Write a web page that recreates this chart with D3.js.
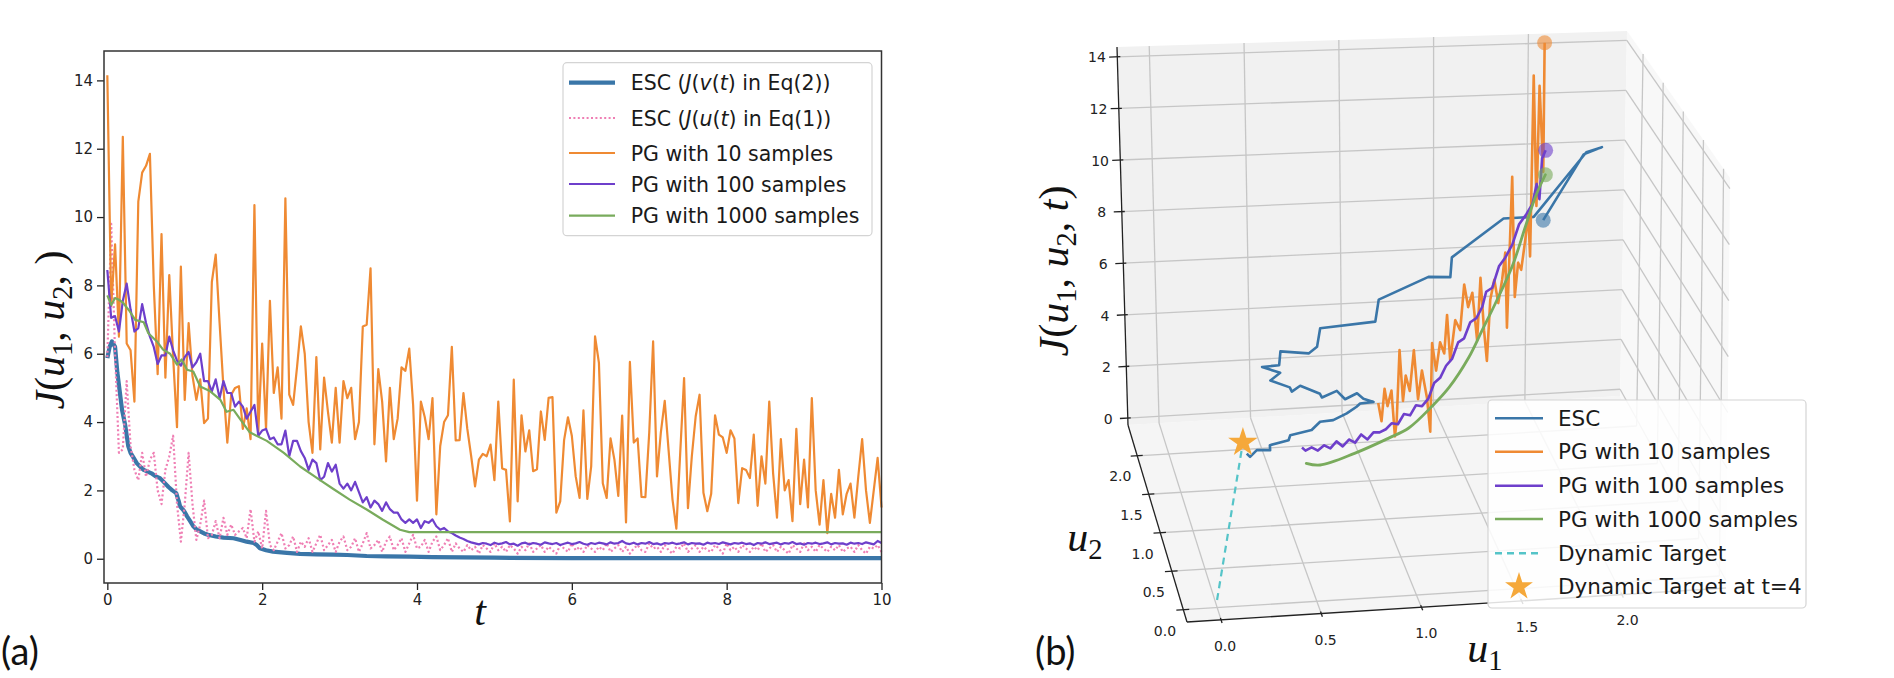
<!DOCTYPE html>
<html>
<head>
<meta charset="utf-8">
<script src="https://cdn.jsdelivr.net/npm/d3@7"></script>
<style>
  body { margin: 0; background: #fff; }
  svg { display: block; }
  .sans { font-family: "DejaVu Sans", sans-serif; }
</style>
</head>
<body>
<svg id="chart" width="1894" height="678"></svg>
<script>
// ---------------- data, panel (a) ----------------
const dt = 0.05; // sample step of the PG and ESC-u series

const escVt = [0,0.03,0.06,0.1,0.13,0.19,0.23,0.27,0.3,0.34,0.38,0.43,0.47,0.52,0.57,0.62,0.68,0.74,0.79,0.84,
  0.89,0.92,0.94,0.99,1.03,1.07,1.11,1.15,1.2,1.25,1.3,1.4,1.5,1.63,1.72,1.8,1.89,1.93,1.97,2.05,
  2.14,2.32,2.49,2.7,2.92,3.1,3.35,3.6,3.9,4.2,4.6,5,6,7,8,9,10];
const escV = [5.87,6.2,6.36,6.2,5.44,4.36,3.92,3.3,3.1,2.95,2.8,2.68,2.6,2.55,2.5,2.42,2.36,2.22,2.1,2.0,
  1.92,1.7,1.53,1.4,1.24,1.1,0.95,0.86,0.8,0.74,0.7,0.65,0.62,0.6,0.55,0.5,0.46,0.4,0.31,0.25,
  0.21,0.17,0.14,0.13,0.12,0.11,0.08,0.07,0.06,0.05,0.04,0.03,0.02,0.02,0.02,0.02,0.02];

const escU = [5.9,9.8,6.0,3.1,3.2,5.2,3.3,2.6,2.3,3.1,2.4,2.9,3.1,2.0,1.6,2.6,3.0,3.6,1.6,0.5,
  1.6,3.1,1.6,0.55,1.0,1.7,0.6,0.7,1.1,0.6,1.2,0.7,1.0,0.7,0.8,0.9,0.6,1.45,0.5,0.8,
  0.3,1.4,0.4,0.25,0.5,0.75,0.3,0.4,0.65,0.2,0.5,
  0.35,0.6,0.2,0.45,0.7,0.25,0.4,0.55,0.2,0.5,0.65,0.25,0.35,0.6,0.2,0.45,0.75,0.3,0.4,0.55,
  0.2,0.5,0.65,0.25,0.4,0.6,0.2,0.45,0.7,0.3,0.35,0.55,0.2,0.5,0.65,0.25,0.4,0.6,0.2,0.45,
  0.3,0.2,0.4,0.25,0.35,0.15,0.4,0.3,0.2,0.45,0.25,0.35,0.2,0.4,0.3,0.15,0.35,0.25,0.45,0.2,
  0.3,0.4,0.2,0.35,0.25,0.15,0.4,0.3,0.2,0.45,0.25,0.35,0.2,0.4,0.3,0.2,0.35,0.25,0.45,0.2,
  0.3,0.4,0.2,0.35,0.15,0.3,0.4,0.25,0.2,0.45,0.3,0.35,0.2,0.4,0.25,0.15,0.35,0.3,0.45,0.2,
  0.3,0.4,0.2,0.35,0.25,0.2,0.4,0.3,0.15,0.45,0.25,0.35,0.2,0.4,0.3,0.2,0.35,0.25,0.45,0.2,
  0.3,0.4,0.2,0.35,0.25,0.15,0.4,0.3,0.2,0.45,0.25,0.35,0.2,0.4,0.3,0.2,0.35,0.25,0.4,0.2,
  0.3,0.35,0.2,0.4,0.25,0.15,0.35,0.3,0.4,0.2];

const pg10 = [14.15,7.4,9.2,6.5,12.35,6.3,6.1,4.6,10.45,11.3,11.5,11.85,8.0,5.4,9.5,5.3,8.3,5.9,3.85,8.55,
  4.65,6.9,5.35,4.65,5.25,3.97,4.1,8.1,8.9,6.9,5.0,3.4,4.8,5.0,5.05,3.8,4.4,3.5,10.35,3.7,
  6.3,3.8,7.55,4.85,5.6,4.1,10.55,4.8,4.5,5.6,6.8,6.0,4.0,3.1,5.9,3.2,5.3,4.3,3.4,5.0,
  3.4,5.2,4.7,5.0,3.5,4.0,6.8,6.85,8.5,3.35,5.55,4.6,2.85,5.0,3.5,4.1,5.6,5.5,6.15,4.5,
  1.7,4.6,4.15,3.5,4.7,1.3,3.3,4.0,4.2,6.2,3.46,3.47,4.85,3.8,3.0,2.12,2.9,3.07,3.0,3.34,
  2.3,4.6,2.64,2.6,1.09,5.24,1.68,4.2,3.14,3.76,2.56,2.62,4.31,3.48,4.71,4.73,1.35,1.68,3.47,4.14,
  3.6,2.41,1.78,4.34,1.75,2.7,6.51,5.73,2.21,1.78,3.52,2.9,1.84,4.19,1.06,5.76,3.4,3.52,1.81,1.8,
  3.7,6.36,2.41,3.7,4.62,3.17,1.74,0.88,3.1,5.29,1.48,3.0,4.17,4.8,1.93,1.39,1.9,4.2,3.63,3.55,
  3.1,3.76,3.52,1.63,2.65,2.6,2.36,3.63,1.55,3.0,2.2,4.6,2.5,1.2,3.5,2.0,2.3,1.1,3.8,1.6,
  2.9,1.5,4.7,2.0,1.0,2.3,0.75,1.9,1.2,2.6,1.3,1.9,2.2,1.2,2.4,3.5,2.0,1.05,2.0,2.95,
  1.5];

const pg100 = [8.45,7.05,7.1,6.65,7.55,8.05,7.3,6.65,6.75,7.45,6.9,6.5,6.2,5.7,5.95,5.95,6.5,6.1,5.8,5.65,
  5.9,6.05,5.6,5.75,6.0,5.2,5.2,4.9,5.25,4.7,5.2,4.85,4.85,4.45,4.6,4.45,4.1,4.3,4.5,3.6,
  3.75,3.8,3.5,3.55,3.35,3.35,3.75,3.0,3.45,3.45,3.15,2.95,2.6,2.9,2.8,2.3,2.4,2.8,2.55,2.75,
  2.2,2.05,2.2,2.0,2.25,1.95,1.65,1.8,1.5,1.7,1.6,1.4,1.65,1.45,1.35,1.35,1.15,1.05,1.15,1.05,
  1.15,0.9,1.1,1.05,1.15,0.95,0.85,0.9,0.8,0.75,0.68,0.62,0.58,0.52,0.48,0.45,
  0.42,0.46,0.44,0.40,0.47,0.43,0.45,0.49,0.42,0.44,0.38,0.45,0.47,0.42,0.46,0.44,0.41,0.48,0.45,0.43,
  0.46,0.40,0.44,0.47,0.43,0.45,0.49,0.44,0.41,0.46,0.43,0.47,0.45,0.42,0.48,0.44,0.46,0.52,0.45,0.43,
  0.47,0.42,0.46,0.44,0.49,0.43,0.45,0.41,0.46,0.44,0.47,0.43,0.45,0.48,0.42,0.46,0.44,0.45,0.41,0.47,
  0.44,0.46,0.43,0.48,0.45,0.42,0.46,0.44,0.47,0.43,0.45,0.40,0.46,0.44,0.48,0.43,0.45,0.47,0.42,0.46,
  0.44,0.49,0.43,0.45,0.41,0.46,0.44,0.47,0.43,0.45,0.48,0.42,0.46,0.44,0.45,0.41,0.47,0.44,0.46,0.43,
  0.48,0.45,0.42,0.52,0.46];

const pg1000t = [0,0.05,0.1,0.15,0.2,0.29,0.36,0.47,0.53,0.64,0.72,0.81,0.9,0.96,1.03,1.11,1.2,1.33,1.46,1.54,
  1.63,1.72,1.84,2.06,2.28,2.49,2.71,2.92,3.13,3.35,3.56,3.78,3.9,10];
const pg1000 = [7.71,7.43,7.63,7.58,7.5,7.24,6.99,6.92,6.6,6.36,6.12,6.0,5.68,5.83,5.53,5.48,5.04,4.9,4.65,4.3,
  4.36,4.07,3.7,3.45,3.1,2.7,2.36,2.04,1.73,1.44,1.14,0.85,0.78,0.78];

const tTicks = [0, 2, 4, 6, 8, 10];
const jTicksA = [0, 2, 4, 6, 8, 10, 12, 14];

// ---------------- data, panel (b) ----------------
const esc3dU1 = [2.087,2.299,2.396,2.313,2.036,1.874,1.597,1.589,1.471,1.202,1.183,0.884,0.866,0.820,0.667,0.659,
  0.566,0.664,0.610,0.715,0.726,0.772,0.879,0.890,0.971,1.016,1.081,1.116,1.171,
  1.096,1.070,1.003,0.917,0.844,0.782,0.659,0.640,0.532,0.524,0.454,0.406,0.395];
const esc3dU2 = [2.39,2.39,2.39,2.39,2.39,2.39,2.39,2.39,2.39,2.39,2.39,2.39,2.39,2.39,2.39,2.39,
  2.39,2.39,2.39,2.39,2.39,2.39,2.39,2.39,2.39,2.39,2.39,2.39,2.39,
  2.38,2.341,2.262,2.186,2.175,2.074,2.024,1.960,1.911,1.847,1.857,1.775,1.821];
const esc3dJ = [6.96,9.52,9.78,9.6,7.11,7.1,5.65,4.87,4.92,4.12,3.26,3.11,2.39,2.15,2.29,1.75,
  1.72,1.45,1.17,0.86,0.69,0.9,0.54,0.39,0.62,0.27,0.48,0.25,0.10,
  0.1,0.1,0.1,0.1,0.1,0.1,0.1,0.1,0.1,0.1,0.1,0.1,0.1];

const pg10U1 = [2.068,2.068,2.040,2.028,2.004,1.992,1.979,1.962,1.938,1.919,1.900,1.879,1.853,1.840,1.822,
  1.799,1.774,1.750,1.731,1.713,1.690,1.671,1.641,1.616,1.592,1.568,1.538,1.508,1.489,1.472,
  1.447,1.423,1.399,1.387,1.368,1.338,1.314,1.290,1.265,1.241,1.224,1.205,1.186,1.175,1.156,
  1.132,1.115,1.096,1.077];
const pg10U2 = [2.310,2.310,2.292,2.284,2.269,2.262,2.254,2.243,2.227,2.216,2.204,2.190,2.174,2.166,2.155,
  2.140,2.124,2.109,2.097,2.086,2.071,2.059,2.040,2.025,2.010,1.994,1.975,1.956,1.945,1.934,
  1.918,1.903,1.888,1.880,1.869,1.850,1.834,1.819,1.804,1.788,1.777,1.766,1.754,1.747,1.735,
  1.720,1.709,1.697,1.685];
const pg10J = [14.23,9.10,12.57,7.83,13.04,5.90,7.60,6.63,5.48,5.80,4.49,9.27,3.38,6.36,5.33,
  4.46,5.43,4.69,2.34,3.57,5.68,3.27,5.20,4.69,5.62,3.89,4.35,2.84,4.65,3.19,
  3.68,2.63,3.75,0.35,1.69,2.82,1.77,3.71,2.19,2.84,1.90,3.89,1.20,0.64,2.44,
  1.90,2.60,1.40,2.14];

const pg100U1 = [2.081,2.060,2.046,2.028,2.004,1.967,1.923,1.883,1.840,1.802,1.762,1.725,1.702,1.666,1.629,
  1.592,1.556,1.520,1.483,1.447,1.411,1.375,1.338,1.302,1.266,1.229,1.193,1.157,1.121,1.084,
  1.048,1.012,0.975,0.939,0.903,0.866,0.830,0.794,0.758,0.721,0.685,0.649,0.629];
const pg100U2 = [2.318,2.305,2.296,2.284,2.269,2.246,2.218,2.193,2.166,2.142,2.117,2.094,2.079,2.056,2.033,
  2.010,1.987,1.964,1.941,1.918,1.895,1.873,1.850,1.827,1.804,1.781,1.758,1.735,1.712,1.689,
  1.667,1.644,1.621,1.598,1.575,1.552,1.529,1.507,1.484,1.461,1.438,1.415,1.402];
const pg100J = [9.93,9.65,8.06,8.70,7.95,7.62,7.31,6.60,6.16,5.90,5.14,5.06,4.52,4.15,4.07,
  3.52,3.44,2.89,2.69,2.30,2.18,1.64,1.44,1.56,1.25,1.38,1.07,1.19,1.04,1.00,
  1.08,0.89,1.16,0.93,1.13,0.95,1.22,1.03,1.23,1.11,1.31,1.27,1.43];

const pg1000U1 = [2.081,2.024,1.963,1.883,1.781,1.701,1.621,1.500,1.399,1.258,1.138,0.935,0.733,0.653];
const pg1000U2 = [2.318,2.282,2.244,2.193,2.129,2.078,2.028,1.952,1.888,1.799,1.723,1.596,1.468,1.418];
const pg1000J = [8.96,8.24,7.16,5.73,4.48,3.60,2.72,1.80,1.31,0.78,0.66,0.53,0.54,0.78];

const targetU1 = [0, 0.4];
const targetU2 = [0, 2.0];
const targetJ = [0, 0];

const u1Ticks = [0, 0.5, 1.0, 1.5, 2.0];
const u2Ticks = [0, 0.5, 1.0, 1.5, 2.0];
const jTicksB = [0, 2, 4, 6, 8, 10, 12, 14];

// ---------------- colours ----------------
const col = {
  escV: "#3a76a8", escU: "#ef7fb4", pg10: "#ef8a33", pg100: "#6e3fcb",
  pg1000: "#79ab5c", target: "#55c4c8", star: "#f5a83a"
};

const svg = d3.select("#chart");

// =============== panel (a) ===============
const frame = { left: 104, right: 881.5, top: 51, bottom: 583 };
const x = d3.scaleLinear().domain([-0.043, 10]).range([frame.left, frame.right]);
const y = d3.scaleLinear().domain([-0.71, 14.86]).range([frame.bottom, frame.top]);

const gA = svg.append("g").attr("class", "sans");
const lineA = d3.line().x(d => x(d[0])).y(d => y(d[1]));
const onGrid = vs => vs.map((v, i) => [i * dt, v]);
const zip = (ts, vs) => ts.map((t, i) => [t, vs[i]]);

function addLine(g, pts, color, width, dash) {
  const p = g.append("path")
    .attr("d", lineA(pts))
    .attr("fill", "none")
    .attr("stroke", color)
    .attr("stroke-width", width)
    .attr("stroke-linejoin", "round");
  if (dash) p.attr("stroke-dasharray", dash);
  return p;
}

addLine(gA, zip(escVt, escV), col.escV, 4.2);
addLine(gA, onGrid(escU), col.escU, 2.2, "2,2.4");
addLine(gA, onGrid(pg10), col.pg10, 2.2);
addLine(gA, onGrid(pg100), col.pg100, 2.2);
addLine(gA, zip(pg1000t, pg1000), col.pg1000, 2.2);

// axes
const xAxis = d3.axisBottom(x).tickValues(tTicks).tickSize(7).tickPadding(4).tickFormat(d3.format("d"));
const yAxis = d3.axisLeft(y).tickValues(jTicksA).tickSize(7).tickPadding(4).tickFormat(d3.format("d"));

gA.append("g").attr("transform", `translate(0,${frame.bottom})`).call(xAxis)
  .call(g => g.select(".domain").remove());
gA.append("g").attr("transform", `translate(${frame.left},0)`).call(yAxis)
  .call(g => g.select(".domain").remove());
gA.selectAll(".tick text").style("font-family", "'DejaVu Sans', sans-serif").attr("font-size", 15).attr("fill", "#222");
gA.selectAll(".tick line").attr("stroke", "#222").attr("stroke-width", 1.3);

gA.append("rect")
  .attr("x", frame.left).attr("y", frame.top)
  .attr("width", frame.right - frame.left).attr("height", frame.bottom - frame.top)
  .attr("fill", "none").attr("stroke", "#333").attr("stroke-width", 1.5);

// legend (a)
const legA = gA.append("g");
legA.append("rect").attr("x", 563).attr("y", 62.7).attr("width", 309).attr("height", 173).attr("rx", 4)
  .attr("fill", "#fff").attr("fill-opacity", 0.85).attr("stroke", "#d4d4d4").attr("stroke-width", 1.2);

const legAItems = [
  { y: 82.7, color: col.escV, w: 4.2, parts: [["ESC (", 0], ["J", 1], ["(", 0], ["v", 1], ["(", 0], ["t", 1], [") in Eq(2))", 0]] },
  { y: 118, color: col.escU, w: 2.2, dash: "2,2.4", parts: [["ESC (", 0], ["J", 1], ["(", 0], ["u", 1], ["(", 0], ["t", 1], [") in Eq(1))", 0]] },
  { y: 153, color: col.pg10, w: 2.2, parts: [["PG with 10 samples", 0]] },
  { y: 184, color: col.pg100, w: 2.2, parts: [["PG with 100 samples", 0]] },
  { y: 215.7, color: col.pg1000, w: 2.2, parts: [["PG with 1000 samples", 0]] }
];
legAItems.forEach(it => {
  const l = legA.append("line").attr("x1", 569).attr("x2", 615).attr("y1", it.y).attr("y2", it.y)
    .attr("stroke", it.color).attr("stroke-width", it.w);
  if (it.dash) l.attr("stroke-dasharray", it.dash);
  const t = legA.append("text").attr("x", 630.7).attr("y", it.y + 7.5).attr("font-size", 20.5).attr("fill", "#1a1a1a");
  it.parts.forEach(p => t.append("tspan").text(p[0]).style("font-style", p[1] ? "italic" : "normal"));
});

// math-style axis labels
function mathLabel(g, parts, size) {
  const t = g.append("text").style("font-family", "'Liberation Serif', 'DejaVu Serif', serif")
    .attr("font-size", size).attr("text-anchor", "middle").attr("fill", "#111");
  parts.forEach(p => {
    const s = t.append("tspan").text(p.s);
    if (p.i) s.style("font-style", "italic");
    if (p.sub) s.attr("font-size", size * 0.68).attr("dy", size * 0.18);
    if (p.up) s.attr("dy", -size * 0.18);
  });
  return t;
}
mathLabel(gA, [{ s: "J", i: 1 }, { s: "(" }, { s: "u", i: 1 }, { s: "1", sub: 1 }, { s: ", ", up: 1 },
  { s: "u", i: 1 }, { s: "2", sub: 1 }, { s: ",  )", up: 1 }], 42)
  .attr("transform", "translate(64,330) rotate(-90)");
mathLabel(gA, [{ s: "t", i: 1 }], 42).attr("x", 480).attr("y", 625);

svg.append("text").attr("x", 1).attr("y", 665).style("font-family", "Lato, 'Open Sans', sans-serif")
  .attr("font-size", 38).attr("fill", "#111").text("(a)");

// =============== panel (b) : 3-D view ===============
const u1Dom = [-0.17, 2.52], u2Dom = [-0.16, 2.40], jDom = [-0.27, 14.38];
const sa = d3.scaleLinear().domain(u1Dom).range([0, 1]);
const sb = d3.scaleLinear().domain(u2Dom).range([0, 1]);
const sc = d3.scaleLinear().domain(jDom).range([0, 1]);

// screen position of the 8 corners of the axes box (a = u1, b = u2, c = J)
const box = {
  p000: [1187, 622], p100: [1726, 588], p010: [1128, 425], p110: [1620, 396],
  p001: [1179, 212], p101: [1730, 178], p011: [1117, 47], p111: [1627, 31]
};
function projN(a, b, c) {
  const w = [
    [(1 - a) * (1 - b) * (1 - c), box.p000], [a * (1 - b) * (1 - c), box.p100],
    [(1 - a) * b * (1 - c), box.p010], [a * b * (1 - c), box.p110],
    [(1 - a) * (1 - b) * c, box.p001], [a * (1 - b) * c, box.p101],
    [(1 - a) * b * c, box.p011], [a * b * c, box.p111]
  ];
  return [d3.sum(w, d => d[0] * d[1][0]), d3.sum(w, d => d[0] * d[1][1])];
}
const proj = (u1, u2, J) => projN(sa(u1), sb(u2), sc(J));
const line2 = d3.line();
const path3 = pts => line2(pts.map(p => proj(p[0], p[1], p[2])));
const zip3 = (a, b, c) => a.map((v, i) => [v, b[i], c[i]]);

const gB = svg.append("g").attr("class", "sans");
const [u1a, u1b] = u1Dom, [u2a, u2b] = u2Dom, [ja, jb] = jDom;

// panes
const panes = [
  { fill: "#f5f5f5", pts: [[u1a, u2a, ja], [u1b, u2a, ja], [u1b, u2b, ja], [u1a, u2b, ja]] },
  { fill: "#f1f1f1", pts: [[u1a, u2b, ja], [u1b, u2b, ja], [u1b, u2b, jb], [u1a, u2b, jb]] },
  { fill: "#f8f8f8", pts: [[u1b, u2a, ja], [u1b, u2b, ja], [u1b, u2b, jb], [u1b, u2a, jb]] }
];
panes.forEach(p => gB.append("path").attr("d", path3(p.pts) + "Z").attr("fill", p.fill));

// grid lines
const grid = [];
u1Ticks.forEach(t => {
  grid.push([[t, u2a, ja], [t, u2b, ja]]);
  grid.push([[t, u2b, ja], [t, u2b, jb]]);
});
u2Ticks.forEach(t => {
  grid.push([[u1a, t, ja], [u1b, t, ja]]);
  grid.push([[u1b, t, ja], [u1b, t, jb]]);
});
jTicksB.forEach(t => {
  grid.push([[u1a, u2b, t], [u1b, u2b, t]]);
  grid.push([[u1b, u2b, t], [u1b, u2a, t]]);
});
gB.selectAll(".grid3").data(grid).enter().append("path")
  .attr("d", d => path3(d)).attr("fill", "none").attr("stroke", "#c6c6c6").attr("stroke-width", 1.3);

// axis lines
[[[u1a, u2a, ja], [u1b, u2a, ja]], [[u1a, u2a, ja], [u1a, u2b, ja]], [[u1a, u2b, ja], [u1a, u2b, jb]]]
  .forEach(seg => gB.append("path").attr("d", path3(seg)).attr("stroke", "#222").attr("stroke-width", 1.3).attr("fill", "none"));

// ticks + labels
const tickG = gB.append("g").attr("stroke", "#222").attr("stroke-width", 1.3);
const labG = gB.append("g").attr("font-size", 14).attr("fill", "#222").attr("text-anchor", "middle");
const f1 = d3.format(".1f");
u1Ticks.forEach(t => {
  const p1 = projN(sa(t), -0.016, 0), p2 = projN(sa(t), 0.01, 0);
  tickG.append("line").attr("x1", p1[0]).attr("y1", p1[1]).attr("x2", p2[0]).attr("y2", p2[1]);
  const q = projN(sa(t), -0.06, -0.035);
  labG.append("text").attr("x", q[0]).attr("y", q[1]).attr("dy", "0.35em").text(f1(t));
});
u2Ticks.forEach(t => {
  const p1 = projN(-0.013, sb(t), 0), p2 = projN(0.011, sb(t), 0);
  tickG.append("line").attr("x1", p1[0]).attr("y1", p1[1]).attr("x2", p2[0]).attr("y2", p2[1]);
  const q = projN(-0.035, sb(t), -0.05);
  labG.append("text").attr("x", q[0]).attr("y", q[1]).attr("dy", "0.35em").text(f1(t));
});
jTicksB.forEach(t => {
  const p1 = projN(-0.016, 1, sc(t)), p2 = projN(0.006, 1, sc(t));
  tickG.append("line").attr("x1", p1[0]).attr("y1", p1[1]).attr("x2", p2[0]).attr("y2", p2[1]);
  const q = projN(-0.04, 1, sc(t));
  labG.append("text").attr("x", q[0]).attr("y", q[1]).attr("dy", "0.35em").text(t);
});

// data lines
gB.append("path").attr("d", path3(zip3(esc3dU1, esc3dU2, esc3dJ)))
  .attr("fill", "none").attr("stroke", col.escV).attr("stroke-width", 2.6).attr("stroke-linejoin", "round");
gB.append("path").attr("d", path3(zip3(pg10U1, pg10U2, pg10J)))
  .attr("fill", "none").attr("stroke", col.pg10).attr("stroke-width", 2.6).attr("stroke-linejoin", "round");
gB.append("path").attr("d", path3(zip3(pg100U1, pg100U2, pg100J)))
  .attr("fill", "none").attr("stroke", col.pg100).attr("stroke-width", 2.6).attr("stroke-linejoin", "round");
gB.append("path")
  .attr("d", d3.line().curve(d3.curveCatmullRom.alpha(0.5))(zip3(pg1000U1, pg1000U2, pg1000J).map(p => proj(...p))))
  .attr("fill", "none").attr("stroke", col.pg1000).attr("stroke-width", 2.8).attr("stroke-linecap", "round");
gB.append("path").attr("d", path3(zip3(targetU1, targetU2, targetJ)))
  .attr("fill", "none").attr("stroke", col.target).attr("stroke-width", 2.2).attr("stroke-dasharray", "7,5");

// start markers
[[esc3dU1, esc3dU2, esc3dJ, col.escV], [pg10U1, pg10U2, pg10J, col.pg10],
 [pg100U1, pg100U2, pg100J, col.pg100], [pg1000U1, pg1000U2, pg1000J, col.pg1000]].forEach(s => {
  const p = proj(s[0][0], s[1][0], s[2][0]);
  gB.append("circle").attr("cx", p[0]).attr("cy", p[1]).attr("r", 7.5).attr("fill", s[3]).attr("fill-opacity", 0.6);
});

// dynamic target at t = 4
const starP = proj(targetU1[1], targetU2[1], targetJ[1]);
gB.append("path").attr("d", d3.symbol(d3.symbolStar).size(270)())
  .attr("transform", `translate(${starP[0]},${starP[1]})`).attr("fill", col.star);

// axis labels (b)
mathLabel(gB, [{ s: "J", i: 1 }, { s: "(" }, { s: "u", i: 1 }, { s: "1", sub: 1 }, { s: ", ", up: 1 },
  { s: "u", i: 1 }, { s: "2", sub: 1 }, { s: ", ", up: 1 }, { s: "t", i: 1 }, { s: ")" }], 42)
  .attr("transform", "translate(1068,271) rotate(-90)");
mathLabel(gB, [{ s: "u", i: 1 }, { s: "2", sub: 1 }], 42).attr("x", 1085).attr("y", 551);
mathLabel(gB, [{ s: "u", i: 1 }, { s: "1", sub: 1 }], 42).attr("x", 1485).attr("y", 662);

svg.append("text").attr("x", 1035).attr("y", 665).style("font-family", "Lato, 'Open Sans', sans-serif")
  .attr("font-size", 38).attr("fill", "#111").text("(b)");

// legend (b)
const legB = gB.append("g");
legB.append("rect").attr("x", 1488).attr("y", 400).attr("width", 318).attr("height", 208).attr("rx", 4)
  .attr("fill", "#fff").attr("fill-opacity", 0.85).attr("stroke", "#d4d4d4").attr("stroke-width", 1.2);
const legBItems = [
  { y: 418.3, color: col.escV, label: "ESC" },
  { y: 451.7, color: col.pg10, label: "PG with 10 samples" },
  { y: 485.7, color: col.pg100, label: "PG with 100 samples" },
  { y: 519, color: col.pg1000, label: "PG with 1000 samples" },
  { y: 553.3, color: col.target, label: "Dynamic Target", dash: "7,5" },
  { y: 586.7, color: col.star, label: "Dynamic Target at t=4", star: true }
];
legBItems.forEach(it => {
  if (it.star) {
    legB.append("path").attr("d", d3.symbol(d3.symbolStar).size(240)())
      .attr("transform", `translate(1519,${it.y})`).attr("fill", it.color);
  } else {
    const l = legB.append("line").attr("x1", 1495).attr("x2", 1543).attr("y1", it.y).attr("y2", it.y)
      .attr("stroke", it.color).attr("stroke-width", 2.6);
    if (it.dash) l.attr("stroke-dasharray", it.dash);
  }
  legB.append("text").attr("x", 1558).attr("y", it.y + 7.5).attr("font-size", 21.5).attr("fill", "#1a1a1a").text(it.label);
});
</script>
</body>
</html>
